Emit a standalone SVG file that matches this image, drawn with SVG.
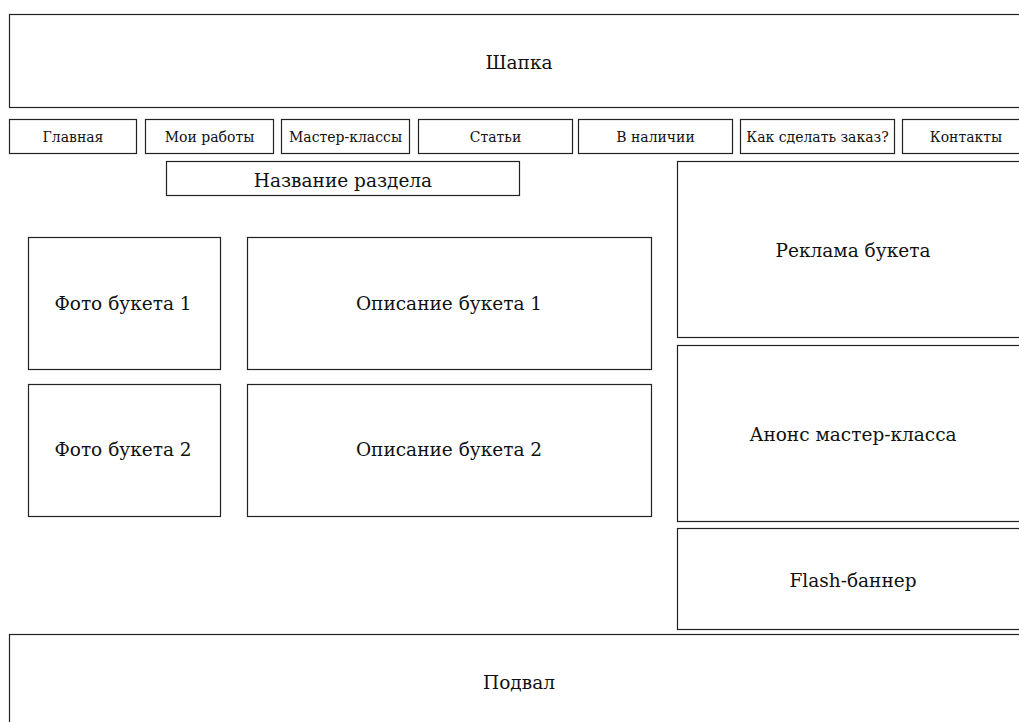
<svg xmlns="http://www.w3.org/2000/svg" width="1019" height="722" viewBox="0 0 1019 722">
<style>
rect{fill:#fff;stroke:#222;stroke-width:1.2}
text{font-family:'DejaVu Serif',serif;fill:#111;text-anchor:middle;dominant-baseline:central}
.n{font-size:14px}
.l{font-size:18.5px}
</style>
<rect x="0" y="0" width="1019" height="722" style="stroke:none"/>
<g id="header"><rect x="9.5" y="14.5" width="1020" height="93"/><text class="l" x="519" y="62">Шапка</text></g>
<g id="nav-home"><rect x="9.5" y="119.5" width="127" height="34"/><text class="n" x="73" y="137">Главная</text></g>
<g id="nav-works"><rect x="145.5" y="119.5" width="128" height="34"/><text class="n" x="209.5" y="137">Мои работы</text></g>
<g id="nav-classes"><rect x="281.5" y="119.5" width="128" height="34"/><text class="n" x="345.5" y="137">Мастер-классы</text></g>
<g id="nav-articles"><rect x="418.5" y="119.5" width="154" height="34"/><text class="n" x="495.5" y="137">Статьи</text></g>
<g id="nav-stock"><rect x="578.5" y="119.5" width="154" height="34"/><text class="n" x="655.5" y="137">В наличии</text></g>
<g id="nav-order"><rect x="740.5" y="119.5" width="154" height="34"/><text class="n" x="817.5" y="137">Как сделать заказ?</text></g>
<g id="nav-contacts"><rect x="902.5" y="119.5" width="127" height="34"/><text class="n" x="966" y="137">Контакты</text></g>
<g id="section-title"><rect x="166.5" y="161.5" width="353" height="34"/><text class="l" x="343" y="180">Название раздела</text></g>
<g id="photo1"><rect x="28.5" y="237.5" width="192" height="132"/><text class="l" x="123" y="303">Фото букета 1</text></g>
<g id="desc1"><rect x="247.5" y="237.5" width="404" height="132"/><text class="l" x="449" y="303">Описание букета 1</text></g>
<g id="photo2"><rect x="28.5" y="384.5" width="192" height="132"/><text class="l" x="123" y="449">Фото букета 2</text></g>
<g id="desc2"><rect x="247.5" y="384.5" width="404" height="132"/><text class="l" x="449" y="449">Описание букета 2</text></g>
<g id="ad"><rect x="677.5" y="161.5" width="352" height="176"/><text class="l" x="853" y="250">Реклама букета</text></g>
<g id="announce"><rect x="677.5" y="345.5" width="352" height="176"/><text class="l" x="853" y="434">Анонс мастер-класса</text></g>
<g id="flash"><rect x="677.5" y="528.5" width="352" height="101"/><text class="l" x="853" y="580">Flash-баннер</text></g>
<g id="footer"><rect x="9.5" y="634.5" width="1020" height="100"/><text class="l" x="519" y="682">Подвал</text></g>
<g id="connectors"></g>
</svg>
